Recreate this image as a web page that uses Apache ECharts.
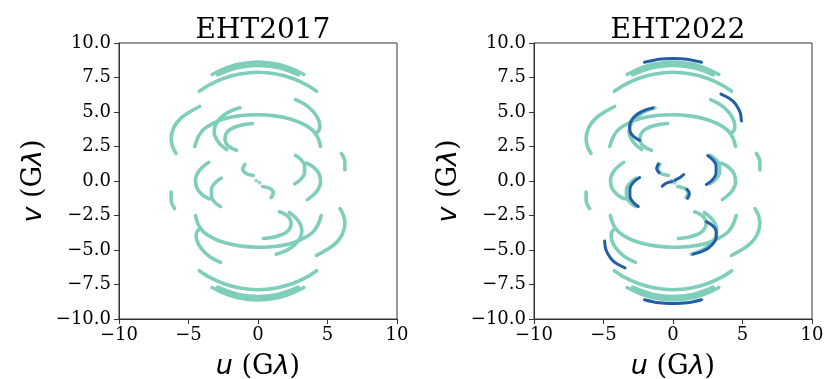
<!DOCTYPE html>
<html><head><meta charset="utf-8">
<script src="https://cdn.jsdelivr.net/npm/echarts@6/dist/echarts.min.js"></script>
<style>html,body{margin:0;padding:0;background:#fff}#c{width:826px;height:379px}</style>
</head><body><div id="c"></div>
<script>
// ---- panel titles and ticks ----
const panelTitles = ['EHT2017', 'EHT2022'];
const xTicks = [-10, -5, 0, 5, 10];
const yTicks = [-10, -7.5, -5, -2.5, 0, 2.5, 5, 7.5, 10];

// ---- teal uv tracks (common to both years), [u, v] in Glambda ----
const trackTopA   = [[-3.3,7.72],[-2.5,8.11],[-1.5,8.44],[0,8.62],[1.5,8.44],[2.5,8.11],[3.3,7.72]];
const trackTopB   = [[-2.9,7.7],[-1.5,8.2],[0,8.38],[1.5,8.2],[2.9,7.7]];
const trackTop2   = [[-4.22,6.5],[-3.5,6.97],[-2.5,7.43],[-1.3,7.76],[0,7.88],[1.3,7.76],[2.5,7.43],[3.5,6.97],[4.22,6.5]];
const trackLeftHi = [[-4.2,5.4],[-5.0,4.95],[-5.6,4.5],[-6.05,3.9],[-6.25,3.1],[-6.15,2.5],[-5.9,2.0]];
const trackOuterS = [[-1.3,5.3],[-1.9,5.1],[-2.45,4.78],[-2.85,4.4],[-3.1,3.95],[-3.15,3.5],[-3.0,3.05],[-2.7,2.65],[-2.25,2.28]];
const trackInnerS = [[-0.4,4.17],[-1.0,4.1],[-1.6,3.93],[-2.05,3.7],[-2.33,3.35],[-2.38,3.0],[-2.2,2.6],[-1.9,2.38],[-1.55,2.23]];
const trackBigHi  = [[-4.55,2.5],[-4.3,3.2],[-3.9,3.75],[-3.2,4.2],[-2.3,4.55],[-1.2,4.75],[0,4.8],[1.2,4.72],[2.3,4.5],[3.2,4.15],[3.9,3.7],[4.3,3.15],[4.5,2.5]];
const trackRightHi= [[2.7,5.9],[3.3,5.6],[3.75,5.25],[4.15,4.8],[4.4,4.3],[4.45,3.85],[4.2,3.45]];
const trackMidL1  = [[-3.55,1.35],[-4.0,1.0],[-4.3,0.65],[-4.5,0.1],[-4.4,-0.5],[-4.0,-1.0],[-3.5,-1.3]];
const trackMidL2  = [[-2.65,0.2],[-3.05,-0.1],[-3.35,-0.6],[-3.35,-1.1],[-3.1,-1.55],[-2.7,-1.85]];
const trackFarL   = [[-6.25,-0.8],[-6.25,-1.4],[-6.0,-2.0]];
const trackCtrHi  = [[-0.94,1.2],[-1.1,0.88],[-0.86,0.54],[-0.34,0.4]];
// conjugate halves
const trackBotA   = [[-3.3,-7.72],[-2.5,-8.11],[-1.5,-8.44],[0,-8.62],[1.5,-8.44],[2.5,-8.11],[3.3,-7.72]];
const trackBotB   = [[-2.9,-7.7],[-1.5,-8.2],[0,-8.38],[1.5,-8.2],[2.9,-7.7]];
const trackBot2   = [[-4.22,-6.5],[-3.5,-6.97],[-2.5,-7.43],[-1.3,-7.76],[0,-7.88],[1.3,-7.76],[2.5,-7.43],[3.5,-6.97],[4.22,-6.5]];
const trackRightLo= [[4.2,-5.4],[5.0,-4.95],[5.6,-4.5],[6.05,-3.9],[6.25,-3.1],[6.15,-2.5],[5.9,-2.0]];
const trackOuterSb= [[1.3,-5.3],[1.9,-5.1],[2.45,-4.78],[2.85,-4.4],[3.1,-3.95],[3.15,-3.5],[3.0,-3.05],[2.7,-2.65],[2.25,-2.28]];
const trackInnerSb= [[0.4,-4.17],[1.0,-4.1],[1.6,-3.93],[2.05,-3.7],[2.33,-3.35],[2.38,-3.0],[2.2,-2.6],[1.9,-2.38],[1.55,-2.23]];
const trackBigLo  = [[4.55,-2.5],[4.3,-3.2],[3.9,-3.75],[3.2,-4.2],[2.3,-4.55],[1.2,-4.75],[0,-4.8],[-1.2,-4.72],[-2.3,-4.5],[-3.2,-4.15],[-3.9,-3.7],[-4.3,-3.15],[-4.5,-2.5]];
const trackLeftLo = [[-2.7,-5.9],[-3.3,-5.6],[-3.75,-5.25],[-4.15,-4.8],[-4.4,-4.3],[-4.45,-3.85],[-4.2,-3.45]];
const trackMidR1  = [[3.55,-1.35],[4.0,-1.0],[4.3,-0.65],[4.5,-0.1],[4.4,0.5],[4.0,1.0],[3.5,1.3]];
const trackMidR2  = [[2.65,-0.2],[3.05,0.1],[3.35,0.6],[3.35,1.1],[3.1,1.55],[2.7,1.85]];
const trackFarR   = [[6.25,0.8],[6.25,1.4],[6.0,2.0]];
const trackCtrLo  = [[0.94,-1.2],[1.1,-0.88],[0.86,-0.54],[0.34,-0.4]];
const centerDots  = [[-0.12,0.02],[0.12,-0.12]];

// ---- additional dark-blue tracks in EHT2022 ----
const newTop      = [[-2.05,8.6],[-1,8.83],[0,8.88],[1,8.83],[2.05,8.6]];
const newBot      = [[-2.05,-8.6],[-1,-8.83],[0,-8.88],[1,-8.83],[2.05,-8.6]];
const newRightHi  = [[3.45,6.3],[3.95,6.05],[4.35,5.75],[4.65,5.35],[4.85,4.9],[4.92,4.35]];
const newLeftLo   = [[-3.45,-6.3],[-3.95,-6.05],[-4.35,-5.75],[-4.65,-5.35],[-4.85,-4.9],[-4.92,-4.35]];
const newOuterHi  = [[-1.45,5.3],[-2.05,5.12],[-2.55,4.85],[-2.95,4.45],[-3.12,4.0],[-3.08,3.55],[-2.8,3.2],[-2.4,2.95]];
const newOuterLo  = [[1.45,-5.3],[2.05,-5.12],[2.55,-4.85],[2.95,-4.45],[3.12,-4.0],[3.08,-3.55],[2.8,-3.2],[2.4,-2.95]];
const newMidL     = [[-2.4,0.25],[-2.85,-0.1],[-3.1,-0.6],[-3.1,-1.1],[-2.9,-1.5],[-2.5,-1.85]];
const newMidR     = [[2.4,-0.25],[2.85,0.1],[3.1,0.6],[3.1,1.1],[2.9,1.5],[2.5,1.85]];
const newCtrHi    = [[-1.05,1.25],[-1.18,0.9],[-1.0,0.6]];
const newCtrLo    = [[1.05,-1.25],[1.18,-0.9],[1.0,-0.6]];
const newXLeft    = [[-0.77,-0.37],[-0.48,-0.15],[-0.08,-0.05]];
const newXRight   = [[0.12,0.05],[0.48,0.23],[0.77,0.47]];

const tealTracks = [trackTopA,trackTopB,trackTop2,trackLeftHi,trackOuterS,trackInnerS,trackBigHi,trackRightHi,
  trackMidL1,trackMidL2,trackFarL,trackCtrHi,trackBotA,trackBotB,trackBot2,trackRightLo,trackOuterSb,trackInnerSb,
  trackBigLo,trackLeftLo,trackMidR1,trackMidR2,trackFarR,trackCtrLo];
const blueTracks = [newTop,newBot,newRightHi,newLeftLo,newOuterHi,newOuterLo,newMidL,newMidR,newCtrHi,newCtrLo,newXLeft,newXRight];

const TEAL = '#7fcdbb', BLUE = '#225ea8';
const chart = echarts.init(document.getElementById('c'), null, {renderer:'canvas'});

const grids = [
  {left:119, top:43, width:278, height:276},
  {left:534, top:43, width:278, height:276}
].map(g => Object.assign({show:true, borderColor:'#333', borderWidth:1, containLabel:false, outerBoundsMode:'none'}, g));

const fmtMinus = s => s.replace('-', '\u2212');
const nameStyle = {fontFamily:'DejaVu Serif', fontSize:27, color:'#000',
  rich:{i:{fontFamily:'DejaVu Sans', fontStyle:'italic', fontSize:27, color:'#000'},
        s:{fontFamily:'DejaVu Serif', fontSize:27, color:'#000'}}};
const xAxes = [], yAxes = [];
for (let i = 0; i < 2; i++) {
  xAxes.push({
    gridIndex:i, type:'value', min:-10, max:10, interval:5,
    name:'{i|u}{s| (G}{i|\u03bb}{s|)}', nameLocation:'middle', nameGap:34,
    nameTextStyle:nameStyle,
    axisLine:{show:true, onZero:false, lineStyle:{color:'#333', width:1}},
    axisTick:{show:true, inside:false, length:5, lineStyle:{color:'#333'}},
    axisLabel:{show:true, margin:7, fontFamily:'DejaVu Serif', fontSize:18, color:'#000',
      formatter: v => xTicks.indexOf(v) >= 0 ? fmtMinus(String(v)) : ''},
    splitLine:{show:false}
  });
  yAxes.push({
    gridIndex:i, type:'value', min:-10, max:10, interval:2.5,
    name:'{i|v}{s| (G}{i|\u03bb}{s|)}', nameLocation:'middle', nameGap:72, nameRotate:90,
    nameTextStyle:nameStyle,
    axisLine:{show:true, onZero:false, lineStyle:{color:'#333', width:1}},
    axisTick:{show:true, inside:false, length:5, lineStyle:{color:'#333'}},
    axisLabel:{show:true, margin:8, fontFamily:'DejaVu Serif', fontSize:18, color:'#000',
      formatter: v => yTicks.indexOf(v) >= 0 ? fmtMinus(v.toFixed(1)) : ''},
    splitLine:{show:false}
  });
}

const series = [];
function addTrack(data, idx, color, width, z) {
  series.push({type:'line', xAxisIndex:idx, yAxisIndex:idx, data:data, showSymbol:false, smooth:0.35,
    silent:true, z:z, lineStyle:{color:color, width:width, cap:'round', join:'round'}});
}
for (let i = 0; i < 2; i++) {
  tealTracks.forEach(t => addTrack(t, i, TEAL, 3.6, 2));
  series.push({type:'scatter', xAxisIndex:i, yAxisIndex:i, data:centerDots, symbolSize:4, silent:true, z:2,
    itemStyle:{color:TEAL}});
}
blueTracks.forEach(t => addTrack(t, 1, BLUE, 3, 3));

chart.setOption({
  animation:false,
  backgroundColor:'#fff',
  title: panelTitles.map((t, i) => ({text:t, left: i === 0 ? 258 : 673, top:12, textAlign:'center',
    textStyle:{fontFamily:'DejaVu Serif', fontSize:28, fontWeight:'normal', color:'#000'}})),
  grid: grids,
  xAxis: xAxes,
  yAxis: yAxes,
  series: series
});
</script></body></html>
